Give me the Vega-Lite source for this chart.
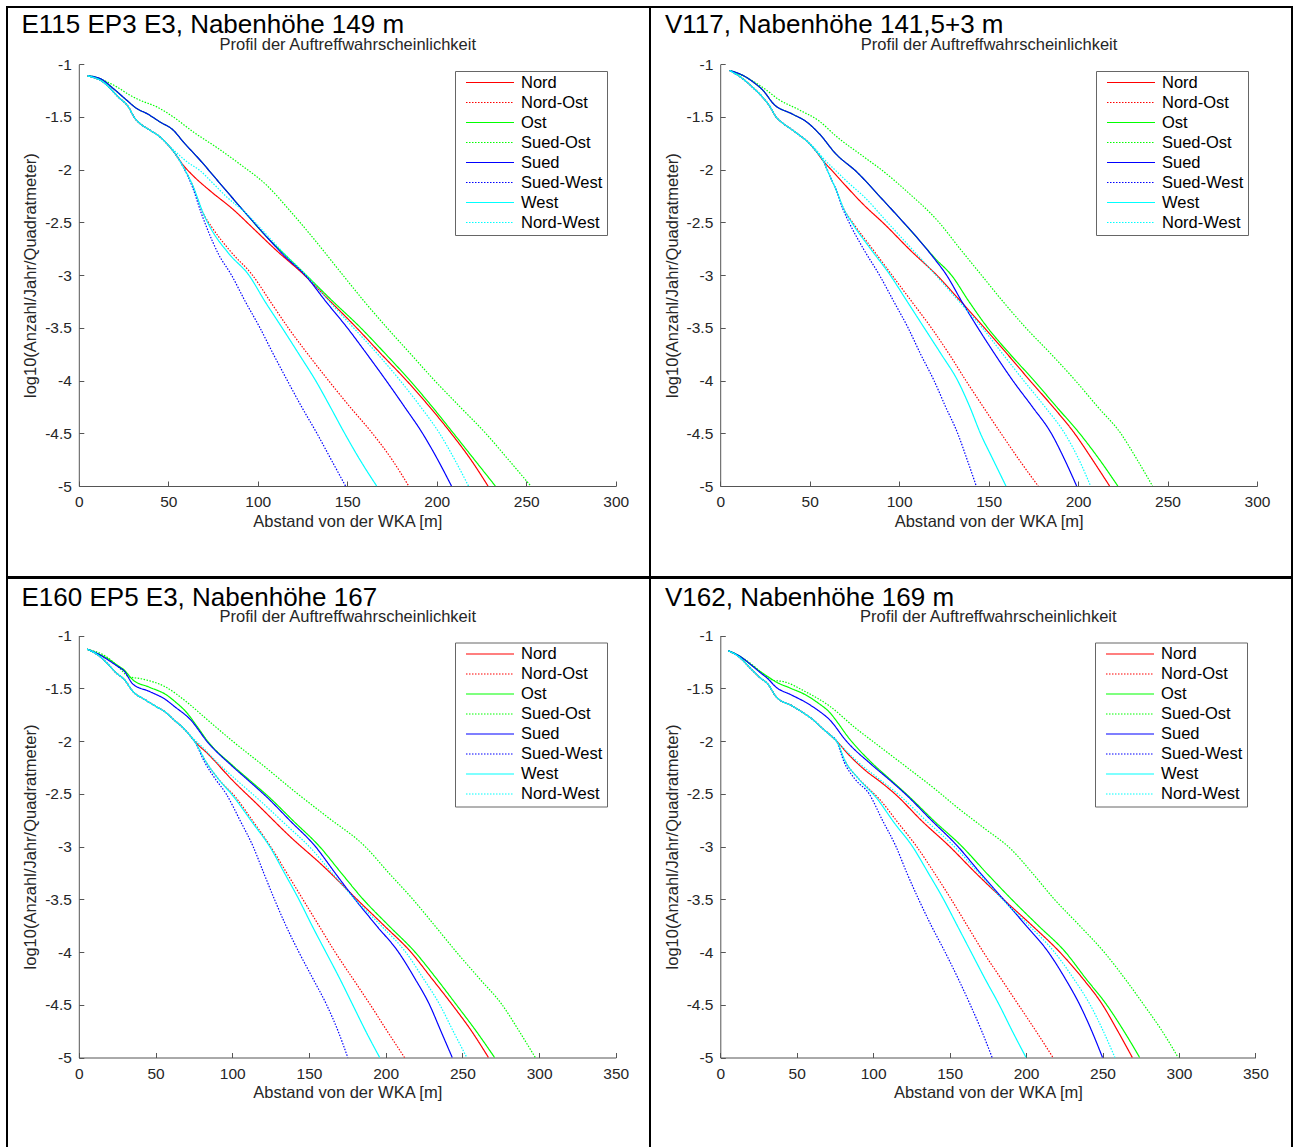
{
  "$schema": "https://vega.github.io/schema/vega-lite/v6.json",
  "padding": {"left": 6, "top": 6, "right": 0, "bottom": 0},
  "config": {
    "font": "Liberation Sans",
    "view": {"stroke": "#000000", "strokeWidth": 2},
    "axis": {"grid": false, "labelFont": "Liberation Sans", "titleFont": "Liberation Sans", "labelFontSize": 15.5, "labelColor": "#262626", "titleFontSize": 16.5, "titleFontWeight": "normal", "titleColor": "#262626", "domainColor": "#555555", "tickColor": "#555555", "tickSize": -5, "labelFlush": false, "labelOverlap": false},
    "legend": {"symbolType": "stroke", "symbolSize": 2304, "symbolStrokeWidth": 1.2, "labelFontSize": 16.5, "labelColor": "#000000", "labelFont": "Liberation Sans", "clipHeight": 15, "rowPadding": 3, "padding": 4, "symbolOffset": 6, "labelOffset": 6, "strokeColor": "#666666", "fillColor": "#ffffff", "labelLimit": 0}
  },
  "datasets": {
    "p1": [
      {"d":"Nord","x":5,"y":-1.11},{"d":"Nord","x":13.7,"y":-1.17},{"d":"Nord","x":22,"y":-1.31},{"d":"Nord","x":27.7,"y":-1.405},{"d":"Nord","x":31.4,"y":-1.515},{"d":"Nord","x":34.2,"y":-1.563},{"d":"Nord","x":39.8,"y":-1.626},{"d":"Nord","x":45.4,"y":-1.69},{"d":"Nord","x":49.2,"y":-1.753},{"d":"Nord","x":53.8,"y":-1.848},{"d":"Nord","x":58,"y":-1.95},{"d":"Nord","x":64,"y":-2.06},{"d":"Nord","x":73.3,"y":-2.2},{"d":"Nord","x":86.4,"y":-2.38},{"d":"Nord","x":97,"y":-2.55},{"d":"Nord","x":110,"y":-2.76},{"d":"Nord","x":126,"y":-3.0},{"d":"Nord","x":140,"y":-3.24},{"d":"Nord","x":155.2,"y":-3.5},{"d":"Nord","x":169,"y":-3.75},{"d":"Nord","x":183.1,"y":-4.0},{"d":"Nord","x":196,"y":-4.25},{"d":"Nord","x":208,"y":-4.5},{"d":"Nord","x":219,"y":-4.75},{"d":"Nord","x":228.6,"y":-5.0},
      {"d":"Nord-Ost","x":5,"y":-1.11},{"d":"Nord-Ost","x":13.7,"y":-1.17},{"d":"Nord-Ost","x":22,"y":-1.31},{"d":"Nord-Ost","x":27.7,"y":-1.405},{"d":"Nord-Ost","x":31.4,"y":-1.515},{"d":"Nord-Ost","x":34.2,"y":-1.563},{"d":"Nord-Ost","x":39.8,"y":-1.626},{"d":"Nord-Ost","x":45.4,"y":-1.69},{"d":"Nord-Ost","x":49.2,"y":-1.753},{"d":"Nord-Ost","x":53.8,"y":-1.848},{"d":"Nord-Ost","x":58.4,"y":-1.975},{"d":"Nord-Ost","x":64,"y":-2.165},{"d":"Nord-Ost","x":69.6,"y":-2.417},{"d":"Nord-Ost","x":74.5,"y":-2.55},{"d":"Nord-Ost","x":85,"y":-2.78},{"d":"Nord-Ost","x":97,"y":-3.0},{"d":"Nord-Ost","x":107,"y":-3.25},{"d":"Nord-Ost","x":117,"y":-3.5},{"d":"Nord-Ost","x":128,"y":-3.75},{"d":"Nord-Ost","x":139.5,"y":-4.0},{"d":"Nord-Ost","x":151.5,"y":-4.25},{"d":"Nord-Ost","x":164,"y":-4.5},{"d":"Nord-Ost","x":175,"y":-4.75},{"d":"Nord-Ost","x":184.3,"y":-5.0},
      {"d":"Ost","x":5,"y":-1.11},{"d":"Ost","x":11.9,"y":-1.136},{"d":"Ost","x":19.3,"y":-1.231},{"d":"Ost","x":26.8,"y":-1.342},{"d":"Ost","x":32.4,"y":-1.421},{"d":"Ost","x":38,"y":-1.468},{"d":"Ost","x":45.4,"y":-1.548},{"d":"Ost","x":52.8,"y":-1.626},{"d":"Ost","x":58.4,"y":-1.737},{"d":"Ost","x":67.8,"y":-1.911},{"d":"Ost","x":79,"y":-2.133},{"d":"Ost","x":90.2,"y":-2.354},{"d":"Ost","x":105.1,"y":-2.64},{"d":"Ost","x":116,"y":-2.82},{"d":"Ost","x":127,"y":-3.0},{"d":"Ost","x":142,"y":-3.25},{"d":"Ost","x":157.5,"y":-3.5},{"d":"Ost","x":171.5,"y":-3.75},{"d":"Ost","x":185,"y":-4.0},{"d":"Ost","x":197.5,"y":-4.25},{"d":"Ost","x":209.3,"y":-4.5},{"d":"Ost","x":221,"y":-4.75},{"d":"Ost","x":232.7,"y":-5.0},
      {"d":"Sued-Ost","x":5,"y":-1.11},{"d":"Sued-Ost","x":13.7,"y":-1.152},{"d":"Sued-Ost","x":21.2,"y":-1.215},{"d":"Sued-Ost","x":28.6,"y":-1.294},{"d":"Sued-Ost","x":34.2,"y":-1.342},{"d":"Sued-Ost","x":43.6,"y":-1.405},{"d":"Sued-Ost","x":52.8,"y":-1.5},{"d":"Sued-Ost","x":64,"y":-1.643},{"d":"Sued-Ost","x":77.1,"y":-1.79},{"d":"Sued-Ost","x":90.2,"y":-1.95},{"d":"Sued-Ost","x":105.1,"y":-2.15},{"d":"Sued-Ost","x":118,"y":-2.39},{"d":"Sued-Ost","x":131,"y":-2.65},{"d":"Sued-Ost","x":146.6,"y":-2.98},{"d":"Sued-Ost","x":159.5,"y":-3.25},{"d":"Sued-Ost","x":172.2,"y":-3.5},{"d":"Sued-Ost","x":185.5,"y":-3.75},{"d":"Sued-Ost","x":198.8,"y":-4.0},{"d":"Sued-Ost","x":213,"y":-4.25},{"d":"Sued-Ost","x":227.3,"y":-4.5},{"d":"Sued-Ost","x":240,"y":-4.75},{"d":"Sued-Ost","x":252.5,"y":-5.0},
      {"d":"Sued","x":5,"y":-1.11},{"d":"Sued","x":11.9,"y":-1.136},{"d":"Sued","x":19.3,"y":-1.231},{"d":"Sued","x":26.8,"y":-1.342},{"d":"Sued","x":32.4,"y":-1.421},{"d":"Sued","x":38,"y":-1.468},{"d":"Sued","x":45.4,"y":-1.548},{"d":"Sued","x":52.8,"y":-1.626},{"d":"Sued","x":58.4,"y":-1.737},{"d":"Sued","x":67.8,"y":-1.911},{"d":"Sued","x":79,"y":-2.133},{"d":"Sued","x":90.2,"y":-2.354},{"d":"Sued","x":105.1,"y":-2.64},{"d":"Sued","x":115,"y":-2.82},{"d":"Sued","x":126.4,"y":-3.0},{"d":"Sued","x":138,"y":-3.25},{"d":"Sued","x":150,"y":-3.5},{"d":"Sued","x":161,"y":-3.75},{"d":"Sued","x":171.7,"y":-4.0},{"d":"Sued","x":182,"y":-4.25},{"d":"Sued","x":192,"y":-4.5},{"d":"Sued","x":200.5,"y":-4.75},{"d":"Sued","x":208.2,"y":-5.0},
      {"d":"Sued-West","x":5,"y":-1.11},{"d":"Sued-West","x":13.7,"y":-1.17},{"d":"Sued-West","x":22,"y":-1.31},{"d":"Sued-West","x":27.7,"y":-1.405},{"d":"Sued-West","x":31.4,"y":-1.515},{"d":"Sued-West","x":34.2,"y":-1.563},{"d":"Sued-West","x":39.8,"y":-1.626},{"d":"Sued-West","x":45.4,"y":-1.69},{"d":"Sued-West","x":49.2,"y":-1.753},{"d":"Sued-West","x":53.8,"y":-1.848},{"d":"Sued-West","x":58.4,"y":-1.975},{"d":"Sued-West","x":63.5,"y":-2.165},{"d":"Sued-West","x":68.5,"y":-2.417},{"d":"Sued-West","x":71.5,"y":-2.55},{"d":"Sued-West","x":78,"y":-2.8},{"d":"Sued-West","x":85.3,"y":-3.0},{"d":"Sued-West","x":93,"y":-3.25},{"d":"Sued-West","x":101.2,"y":-3.5},{"d":"Sued-West","x":108.7,"y":-3.75},{"d":"Sued-West","x":116.5,"y":-4.0},{"d":"Sued-West","x":124.5,"y":-4.25},{"d":"Sued-West","x":133,"y":-4.5},{"d":"Sued-West","x":141,"y":-4.75},{"d":"Sued-West","x":149,"y":-5.0},
      {"d":"West","x":5,"y":-1.11},{"d":"West","x":13.7,"y":-1.17},{"d":"West","x":22,"y":-1.31},{"d":"West","x":27.7,"y":-1.405},{"d":"West","x":31.4,"y":-1.515},{"d":"West","x":34.2,"y":-1.563},{"d":"West","x":39.8,"y":-1.626},{"d":"West","x":45.4,"y":-1.69},{"d":"West","x":49.2,"y":-1.753},{"d":"West","x":53.8,"y":-1.848},{"d":"West","x":58.4,"y":-1.975},{"d":"West","x":64,"y":-2.165},{"d":"West","x":69.6,"y":-2.417},{"d":"West","x":73.5,"y":-2.55},{"d":"West","x":84,"y":-2.8},{"d":"West","x":95,"y":-3.0},{"d":"West","x":104,"y":-3.25},{"d":"West","x":113.6,"y":-3.5},{"d":"West","x":123,"y":-3.75},{"d":"West","x":132.3,"y":-4.0},{"d":"West","x":140.5,"y":-4.25},{"d":"West","x":148.5,"y":-4.5},{"d":"West","x":157,"y":-4.75},{"d":"West","x":166.4,"y":-5.0},
      {"d":"Nord-West","x":5,"y":-1.11},{"d":"Nord-West","x":13.7,"y":-1.17},{"d":"Nord-West","x":22,"y":-1.31},{"d":"Nord-West","x":27.7,"y":-1.405},{"d":"Nord-West","x":31.4,"y":-1.515},{"d":"Nord-West","x":34.2,"y":-1.563},{"d":"Nord-West","x":39.8,"y":-1.626},{"d":"Nord-West","x":45.4,"y":-1.69},{"d":"Nord-West","x":49.2,"y":-1.753},{"d":"Nord-West","x":54,"y":-1.83},{"d":"Nord-West","x":60,"y":-1.92},{"d":"Nord-West","x":67.8,"y":-2.01},{"d":"Nord-West","x":75,"y":-2.13},{"d":"Nord-West","x":82.7,"y":-2.26},{"d":"Nord-West","x":93.9,"y":-2.42},{"d":"Nord-West","x":104,"y":-2.6},{"d":"Nord-West","x":115,"y":-2.8},{"d":"Nord-West","x":127,"y":-3.0},{"d":"Nord-West","x":140,"y":-3.25},{"d":"Nord-West","x":153.5,"y":-3.5},{"d":"Nord-West","x":167,"y":-3.75},{"d":"Nord-West","x":179.5,"y":-4.0},{"d":"Nord-West","x":191,"y":-4.25},{"d":"Nord-West","x":201.5,"y":-4.5},{"d":"Nord-West","x":210,"y":-4.75},{"d":"Nord-West","x":217.7,"y":-5.0}
    ],
    "p2": [
      {"d":"Nord","x":5.3,"y":-1.06},{"d":"Nord","x":12,"y":-1.13},{"d":"Nord","x":18.5,"y":-1.225},{"d":"Nord","x":23,"y":-1.3},{"d":"Nord","x":27.7,"y":-1.4},{"d":"Nord","x":31.2,"y":-1.5},{"d":"Nord","x":35,"y":-1.56},{"d":"Nord","x":39.2,"y":-1.61},{"d":"Nord","x":44,"y":-1.67},{"d":"Nord","x":48.5,"y":-1.73},{"d":"Nord","x":53.1,"y":-1.815},{"d":"Nord","x":57.7,"y":-1.92},{"d":"Nord","x":62,"y":-2.0},{"d":"Nord","x":70,"y":-2.15},{"d":"Nord","x":80,"y":-2.33},{"d":"Nord","x":92,"y":-2.52},{"d":"Nord","x":106,"y":-2.76},{"d":"Nord","x":121,"y":-3.0},{"d":"Nord","x":134.5,"y":-3.25},{"d":"Nord","x":147.7,"y":-3.5},{"d":"Nord","x":160.5,"y":-3.75},{"d":"Nord","x":173.1,"y":-4.0},{"d":"Nord","x":186,"y":-4.25},{"d":"Nord","x":198,"y":-4.5},{"d":"Nord","x":208,"y":-4.75},{"d":"Nord","x":217.6,"y":-5.0},
      {"d":"Nord-Ost","x":5.3,"y":-1.06},{"d":"Nord-Ost","x":12,"y":-1.13},{"d":"Nord-Ost","x":18.5,"y":-1.225},{"d":"Nord-Ost","x":23,"y":-1.3},{"d":"Nord-Ost","x":27.7,"y":-1.4},{"d":"Nord-Ost","x":31.2,"y":-1.5},{"d":"Nord-Ost","x":35,"y":-1.56},{"d":"Nord-Ost","x":39.2,"y":-1.61},{"d":"Nord-Ost","x":44,"y":-1.67},{"d":"Nord-Ost","x":48.5,"y":-1.73},{"d":"Nord-Ost","x":53.1,"y":-1.815},{"d":"Nord-Ost","x":57.7,"y":-1.92},{"d":"Nord-Ost","x":61,"y":-2.05},{"d":"Nord-Ost","x":65,"y":-2.2},{"d":"Nord-Ost","x":69,"y":-2.37},{"d":"Nord-Ost","x":74,"y":-2.5},{"d":"Nord-Ost","x":85,"y":-2.75},{"d":"Nord-Ost","x":96,"y":-3.0},{"d":"Nord-Ost","x":107,"y":-3.25},{"d":"Nord-Ost","x":118,"y":-3.5},{"d":"Nord-Ost","x":128,"y":-3.75},{"d":"Nord-Ost","x":137.3,"y":-4.0},{"d":"Nord-Ost","x":147,"y":-4.25},{"d":"Nord-Ost","x":156.9,"y":-4.5},{"d":"Nord-Ost","x":167,"y":-4.75},{"d":"Nord-Ost","x":177.7,"y":-5.0},
      {"d":"Ost","x":5.3,"y":-1.06},{"d":"Ost","x":12,"y":-1.1},{"d":"Ost","x":18.5,"y":-1.17},{"d":"Ost","x":24,"y":-1.25},{"d":"Ost","x":30,"y":-1.38},{"d":"Ost","x":40,"y":-1.47},{"d":"Ost","x":48.5,"y":-1.55},{"d":"Ost","x":55.4,"y":-1.66},{"d":"Ost","x":64.6,"y":-1.85},{"d":"Ost","x":76.2,"y":-2.02},{"d":"Ost","x":90,"y":-2.27},{"d":"Ost","x":99.2,"y":-2.44},{"d":"Ost","x":110.8,"y":-2.66},{"d":"Ost","x":120,"y":-2.84},{"d":"Ost","x":129.2,"y":-3.0},{"d":"Ost","x":139,"y":-3.25},{"d":"Ost","x":149.5,"y":-3.5},{"d":"Ost","x":162,"y":-3.75},{"d":"Ost","x":175.4,"y":-4.0},{"d":"Ost","x":188,"y":-4.25},{"d":"Ost","x":200.8,"y":-4.5},{"d":"Ost","x":212,"y":-4.75},{"d":"Ost","x":222.2,"y":-5.0},
      {"d":"Sued-Ost","x":5.3,"y":-1.06},{"d":"Sued-Ost","x":16.2,"y":-1.14},{"d":"Sued-Ost","x":25.4,"y":-1.24},{"d":"Sued-Ost","x":32.3,"y":-1.33},{"d":"Sued-Ost","x":43.8,"y":-1.43},{"d":"Sued-Ost","x":55.4,"y":-1.54},{"d":"Sued-Ost","x":64.6,"y":-1.68},{"d":"Sued-Ost","x":80.8,"y":-1.885},{"d":"Sued-Ost","x":90,"y":-2.0},{"d":"Sued-Ost","x":103.9,"y":-2.2},{"d":"Sued-Ost","x":122.3,"y":-2.5},{"d":"Sued-Ost","x":134,"y":-2.75},{"d":"Sued-Ost","x":146,"y":-3.0},{"d":"Sued-Ost","x":158,"y":-3.25},{"d":"Sued-Ost","x":170.8,"y":-3.5},{"d":"Sued-Ost","x":185,"y":-3.75},{"d":"Sued-Ost","x":198.5,"y":-4.0},{"d":"Sued-Ost","x":211,"y":-4.25},{"d":"Sued-Ost","x":223.8,"y":-4.5},{"d":"Sued-Ost","x":233,"y":-4.75},{"d":"Sued-Ost","x":241.6,"y":-5.0},
      {"d":"Sued","x":5.3,"y":-1.06},{"d":"Sued","x":12,"y":-1.1},{"d":"Sued","x":18.5,"y":-1.17},{"d":"Sued","x":24,"y":-1.25},{"d":"Sued","x":30,"y":-1.38},{"d":"Sued","x":40,"y":-1.47},{"d":"Sued","x":48.5,"y":-1.55},{"d":"Sued","x":55.4,"y":-1.66},{"d":"Sued","x":64.6,"y":-1.85},{"d":"Sued","x":76.2,"y":-2.02},{"d":"Sued","x":90,"y":-2.27},{"d":"Sued","x":99.2,"y":-2.44},{"d":"Sued","x":110.8,"y":-2.66},{"d":"Sued","x":119,"y":-2.83},{"d":"Sued","x":126.5,"y":-3.0},{"d":"Sued","x":135,"y":-3.25},{"d":"Sued","x":144,"y":-3.5},{"d":"Sued","x":153.5,"y":-3.75},{"d":"Sued","x":163.5,"y":-4.0},{"d":"Sued","x":174.5,"y":-4.25},{"d":"Sued","x":185,"y":-4.5},{"d":"Sued","x":192.5,"y":-4.75},{"d":"Sued","x":199.2,"y":-5.0},
      {"d":"Sued-West","x":5.3,"y":-1.06},{"d":"Sued-West","x":12,"y":-1.13},{"d":"Sued-West","x":18.5,"y":-1.225},{"d":"Sued-West","x":23,"y":-1.3},{"d":"Sued-West","x":27.7,"y":-1.4},{"d":"Sued-West","x":31.2,"y":-1.5},{"d":"Sued-West","x":35,"y":-1.56},{"d":"Sued-West","x":39.2,"y":-1.61},{"d":"Sued-West","x":44,"y":-1.67},{"d":"Sued-West","x":48.5,"y":-1.73},{"d":"Sued-West","x":53.1,"y":-1.815},{"d":"Sued-West","x":57.7,"y":-1.92},{"d":"Sued-West","x":61,"y":-2.05},{"d":"Sued-West","x":65,"y":-2.2},{"d":"Sued-West","x":68.5,"y":-2.37},{"d":"Sued-West","x":72,"y":-2.5},{"d":"Sued-West","x":80,"y":-2.75},{"d":"Sued-West","x":89,"y":-3.0},{"d":"Sued-West","x":97,"y":-3.25},{"d":"Sued-West","x":105,"y":-3.5},{"d":"Sued-West","x":112,"y":-3.75},{"d":"Sued-West","x":119.5,"y":-4.0},{"d":"Sued-West","x":126,"y":-4.25},{"d":"Sued-West","x":132.7,"y":-4.5},{"d":"Sued-West","x":138,"y":-4.75},{"d":"Sued-West","x":143.1,"y":-5.0},
      {"d":"West","x":5.3,"y":-1.06},{"d":"West","x":12,"y":-1.13},{"d":"West","x":18.5,"y":-1.225},{"d":"West","x":23,"y":-1.3},{"d":"West","x":27.7,"y":-1.4},{"d":"West","x":31.2,"y":-1.5},{"d":"West","x":35,"y":-1.56},{"d":"West","x":39.2,"y":-1.61},{"d":"West","x":44,"y":-1.67},{"d":"West","x":48.5,"y":-1.73},{"d":"West","x":53.1,"y":-1.815},{"d":"West","x":57.7,"y":-1.92},{"d":"West","x":61,"y":-2.05},{"d":"West","x":65,"y":-2.2},{"d":"West","x":69,"y":-2.37},{"d":"West","x":73.5,"y":-2.5},{"d":"West","x":84,"y":-2.75},{"d":"West","x":95,"y":-3.0},{"d":"West","x":104.5,"y":-3.25},{"d":"West","x":114,"y":-3.5},{"d":"West","x":123.5,"y":-3.75},{"d":"West","x":132.7,"y":-4.0},{"d":"West","x":139.5,"y":-4.25},{"d":"West","x":145.4,"y":-4.5},{"d":"West","x":152.5,"y":-4.75},{"d":"West","x":159.7,"y":-5.0},
      {"d":"Nord-West","x":5.3,"y":-1.06},{"d":"Nord-West","x":12,"y":-1.13},{"d":"Nord-West","x":18.5,"y":-1.225},{"d":"Nord-West","x":23,"y":-1.3},{"d":"Nord-West","x":27.7,"y":-1.4},{"d":"Nord-West","x":31.2,"y":-1.5},{"d":"Nord-West","x":35,"y":-1.56},{"d":"Nord-West","x":39.2,"y":-1.61},{"d":"Nord-West","x":44,"y":-1.67},{"d":"Nord-West","x":48.5,"y":-1.73},{"d":"Nord-West","x":53,"y":-1.8},{"d":"Nord-West","x":58,"y":-1.9},{"d":"Nord-West","x":64,"y":-2.0},{"d":"Nord-West","x":72,"y":-2.13},{"d":"Nord-West","x":80,"y":-2.25},{"d":"Nord-West","x":93.5,"y":-2.5},{"d":"Nord-West","x":107,"y":-2.75},{"d":"Nord-West","x":120.5,"y":-3.0},{"d":"Nord-West","x":133.5,"y":-3.25},{"d":"Nord-West","x":146.5,"y":-3.5},{"d":"Nord-West","x":158,"y":-3.75},{"d":"Nord-West","x":169.6,"y":-4.0},{"d":"Nord-West","x":181.5,"y":-4.25},{"d":"Nord-West","x":192.5,"y":-4.5},{"d":"Nord-West","x":200.5,"y":-4.75},{"d":"Nord-West","x":207,"y":-5.0}
    ],
    "p3": [
      {"d":"Nord","x":5.4,"y":-1.13},{"d":"Nord","x":12,"y":-1.18},{"d":"Nord","x":18.9,"y":-1.27},{"d":"Nord","x":24,"y":-1.35},{"d":"Nord","x":29.8,"y":-1.42},{"d":"Nord","x":35.2,"y":-1.53},{"d":"Nord","x":43.3,"y":-1.61},{"d":"Nord","x":50,"y":-1.67},{"d":"Nord","x":56.8,"y":-1.73},{"d":"Nord","x":62,"y":-1.8},{"d":"Nord","x":67.6,"y":-1.87},{"d":"Nord","x":72,"y":-1.94},{"d":"Nord","x":76,"y":-2.01},{"d":"Nord","x":84,"y":-2.12},{"d":"Nord","x":100,"y":-2.37},{"d":"Nord","x":116.3,"y":-2.6},{"d":"Nord","x":138,"y":-2.91},{"d":"Nord","x":159.6,"y":-3.19},{"d":"Nord","x":181.2,"y":-3.5},{"d":"Nord","x":199,"y":-3.75},{"d":"Nord","x":216.4,"y":-4.0},{"d":"Nord","x":230,"y":-4.25},{"d":"Nord","x":243.4,"y":-4.5},{"d":"Nord","x":256,"y":-4.75},{"d":"Nord","x":267,"y":-5.0},
      {"d":"Nord-Ost","x":5.4,"y":-1.13},{"d":"Nord-Ost","x":12,"y":-1.18},{"d":"Nord-Ost","x":18.9,"y":-1.27},{"d":"Nord-Ost","x":24,"y":-1.35},{"d":"Nord-Ost","x":29.8,"y":-1.42},{"d":"Nord-Ost","x":35.2,"y":-1.53},{"d":"Nord-Ost","x":43.3,"y":-1.61},{"d":"Nord-Ost","x":50,"y":-1.67},{"d":"Nord-Ost","x":56.8,"y":-1.73},{"d":"Nord-Ost","x":62,"y":-1.8},{"d":"Nord-Ost","x":67.6,"y":-1.87},{"d":"Nord-Ost","x":72,"y":-1.94},{"d":"Nord-Ost","x":75.7,"y":-2.01},{"d":"Nord-Ost","x":83,"y":-2.2},{"d":"Nord-Ost","x":91,"y":-2.36},{"d":"Nord-Ost","x":102,"y":-2.53},{"d":"Nord-Ost","x":114,"y":-2.77},{"d":"Nord-Ost","x":125,"y":-3.0},{"d":"Nord-Ost","x":135.5,"y":-3.25},{"d":"Nord-Ost","x":146,"y":-3.5},{"d":"Nord-Ost","x":156.5,"y":-3.75},{"d":"Nord-Ost","x":167,"y":-4.0},{"d":"Nord-Ost","x":178.5,"y":-4.25},{"d":"Nord-Ost","x":190,"y":-4.5},{"d":"Nord-Ost","x":201,"y":-4.75},{"d":"Nord-Ost","x":212.3,"y":-5.0},
      {"d":"Ost","x":5.4,"y":-1.13},{"d":"Ost","x":12,"y":-1.17},{"d":"Ost","x":18.9,"y":-1.22},{"d":"Ost","x":25,"y":-1.28},{"d":"Ost","x":29.8,"y":-1.33},{"d":"Ost","x":35.2,"y":-1.42},{"d":"Ost","x":46,"y":-1.49},{"d":"Ost","x":56.8,"y":-1.56},{"d":"Ost","x":63,"y":-1.63},{"d":"Ost","x":70.3,"y":-1.73},{"d":"Ost","x":77,"y":-1.86},{"d":"Ost","x":83.9,"y":-2.0},{"d":"Ost","x":100.1,"y":-2.23},{"d":"Ost","x":112,"y":-2.38},{"d":"Ost","x":123.1,"y":-2.52},{"d":"Ost","x":140,"y":-2.76},{"d":"Ost","x":156.9,"y":-3.0},{"d":"Ost","x":171,"y":-3.25},{"d":"Ost","x":185.3,"y":-3.5},{"d":"Ost","x":202,"y":-3.75},{"d":"Ost","x":219.1,"y":-4.0},{"d":"Ost","x":233,"y":-4.25},{"d":"Ost","x":246.1,"y":-4.5},{"d":"Ost","x":259,"y":-4.75},{"d":"Ost","x":271,"y":-5.0},
      {"d":"Sued-Ost","x":5.4,"y":-1.13},{"d":"Sued-Ost","x":18.9,"y":-1.21},{"d":"Sued-Ost","x":26,"y":-1.3},{"d":"Sued-Ost","x":32.5,"y":-1.39},{"d":"Sued-Ost","x":40.6,"y":-1.41},{"d":"Sued-Ost","x":56.8,"y":-1.49},{"d":"Sued-Ost","x":70.3,"y":-1.63},{"d":"Sued-Ost","x":83.9,"y":-1.8},{"d":"Sued-Ost","x":100.1,"y":-2.0},{"d":"Sued-Ost","x":121.7,"y":-2.25},{"d":"Sued-Ost","x":140,"y":-2.47},{"d":"Sued-Ost","x":162,"y":-2.72},{"d":"Sued-Ost","x":186.6,"y":-3.0},{"d":"Sued-Ost","x":202,"y":-3.25},{"d":"Sued-Ost","x":217.7,"y":-3.5},{"d":"Sued-Ost","x":232,"y":-3.75},{"d":"Sued-Ost","x":246.1,"y":-4.0},{"d":"Sued-Ost","x":261,"y":-4.25},{"d":"Sued-Ost","x":275.9,"y":-4.5},{"d":"Sued-Ost","x":287,"y":-4.75},{"d":"Sued-Ost","x":297.5,"y":-5.0},
      {"d":"Sued","x":5.4,"y":-1.13},{"d":"Sued","x":12,"y":-1.17},{"d":"Sued","x":18.9,"y":-1.23},{"d":"Sued","x":25,"y":-1.29},{"d":"Sued","x":29.8,"y":-1.34},{"d":"Sued","x":35.2,"y":-1.46},{"d":"Sued","x":46,"y":-1.53},{"d":"Sued","x":56.8,"y":-1.61},{"d":"Sued","x":62.1,"y":-1.67},{"d":"Sued","x":72.9,"y":-1.8},{"d":"Sued","x":83.9,"y":-2.01},{"d":"Sued","x":100.1,"y":-2.24},{"d":"Sued","x":111,"y":-2.38},{"d":"Sued","x":121.7,"y":-2.52},{"d":"Sued","x":138,"y":-2.76},{"d":"Sued","x":154.2,"y":-3.0},{"d":"Sued","x":167,"y":-3.25},{"d":"Sued","x":180,"y":-3.5},{"d":"Sued","x":194,"y":-3.75},{"d":"Sued","x":208.3,"y":-4.0},{"d":"Sued","x":219,"y":-4.25},{"d":"Sued","x":228.6,"y":-4.5},{"d":"Sued","x":236,"y":-4.75},{"d":"Sued","x":243.4,"y":-5.0},
      {"d":"Sued-West","x":5.4,"y":-1.13},{"d":"Sued-West","x":12,"y":-1.18},{"d":"Sued-West","x":18.9,"y":-1.27},{"d":"Sued-West","x":24,"y":-1.35},{"d":"Sued-West","x":29.8,"y":-1.42},{"d":"Sued-West","x":35.2,"y":-1.53},{"d":"Sued-West","x":43.3,"y":-1.61},{"d":"Sued-West","x":50,"y":-1.67},{"d":"Sued-West","x":56.8,"y":-1.73},{"d":"Sued-West","x":62,"y":-1.8},{"d":"Sued-West","x":67.6,"y":-1.87},{"d":"Sued-West","x":72,"y":-1.94},{"d":"Sued-West","x":75.7,"y":-2.01},{"d":"Sued-West","x":82,"y":-2.2},{"d":"Sued-West","x":89,"y":-2.36},{"d":"Sued-West","x":96,"y":-2.5},{"d":"Sued-West","x":105,"y":-2.75},{"d":"Sued-West","x":113.6,"y":-3.0},{"d":"Sued-West","x":120.5,"y":-3.25},{"d":"Sued-West","x":127.5,"y":-3.5},{"d":"Sued-West","x":135,"y":-3.75},{"d":"Sued-West","x":143.4,"y":-4.0},{"d":"Sued-West","x":152.5,"y":-4.25},{"d":"Sued-West","x":161.5,"y":-4.5},{"d":"Sued-West","x":169,"y":-4.75},{"d":"Sued-West","x":175.3,"y":-5.0},
      {"d":"West","x":5.4,"y":-1.13},{"d":"West","x":12,"y":-1.18},{"d":"West","x":18.9,"y":-1.27},{"d":"West","x":24,"y":-1.35},{"d":"West","x":29.8,"y":-1.42},{"d":"West","x":35.2,"y":-1.53},{"d":"West","x":43.3,"y":-1.61},{"d":"West","x":50,"y":-1.67},{"d":"West","x":56.8,"y":-1.73},{"d":"West","x":62,"y":-1.8},{"d":"West","x":67.6,"y":-1.87},{"d":"West","x":72,"y":-1.94},{"d":"West","x":75.7,"y":-2.01},{"d":"West","x":83,"y":-2.2},{"d":"West","x":91,"y":-2.36},{"d":"West","x":101,"y":-2.53},{"d":"West","x":113,"y":-2.77},{"d":"West","x":124.4,"y":-3.0},{"d":"West","x":134,"y":-3.25},{"d":"West","x":143.4,"y":-3.5},{"d":"West","x":152,"y":-3.75},{"d":"West","x":161,"y":-4.0},{"d":"West","x":170,"y":-4.25},{"d":"West","x":178.5,"y":-4.5},{"d":"West","x":187,"y":-4.75},{"d":"West","x":196.1,"y":-5.0},
      {"d":"Nord-West","x":5.4,"y":-1.13},{"d":"Nord-West","x":12,"y":-1.18},{"d":"Nord-West","x":18.9,"y":-1.27},{"d":"Nord-West","x":24,"y":-1.35},{"d":"Nord-West","x":29.8,"y":-1.42},{"d":"Nord-West","x":35.2,"y":-1.53},{"d":"Nord-West","x":43.3,"y":-1.61},{"d":"Nord-West","x":50,"y":-1.67},{"d":"Nord-West","x":56.8,"y":-1.73},{"d":"Nord-West","x":62,"y":-1.8},{"d":"Nord-West","x":67.6,"y":-1.87},{"d":"Nord-West","x":72,"y":-1.94},{"d":"Nord-West","x":80,"y":-2.05},{"d":"Nord-West","x":90,"y":-2.2},{"d":"Nord-West","x":102,"y":-2.36},{"d":"Nord-West","x":117.7,"y":-2.56},{"d":"Nord-West","x":134,"y":-2.78},{"d":"Nord-West","x":151.5,"y":-3.02},{"d":"Nord-West","x":165,"y":-3.25},{"d":"Nord-West","x":180,"y":-3.5},{"d":"Nord-West","x":197,"y":-3.75},{"d":"Nord-West","x":213,"y":-4.0},{"d":"Nord-West","x":224.5,"y":-4.25},{"d":"Nord-West","x":235.3,"y":-4.5},{"d":"Nord-West","x":244,"y":-4.75},{"d":"Nord-West","x":252.9,"y":-5.0}
    ],
    "p4": [
      {"d":"Nord","x":5.4,"y":-1.146},{"d":"Nord","x":12,"y":-1.2},{"d":"Nord","x":20.3,"y":-1.32},{"d":"Nord","x":26,"y":-1.4},{"d":"Nord","x":31.1,"y":-1.46},{"d":"Nord","x":36.5,"y":-1.58},{"d":"Nord","x":47.3,"y":-1.67},{"d":"Nord","x":55,"y":-1.74},{"d":"Nord","x":60.8,"y":-1.8},{"d":"Nord","x":66,"y":-1.87},{"d":"Nord","x":71.6,"y":-1.94},{"d":"Nord","x":76,"y":-2.0},{"d":"Nord","x":84,"y":-2.13},{"d":"Nord","x":95,"y":-2.28},{"d":"Nord","x":105,"y":-2.39},{"d":"Nord","x":114.9,"y":-2.51},{"d":"Nord","x":132,"y":-2.76},{"d":"Nord","x":150,"y":-3.0},{"d":"Nord","x":167,"y":-3.25},{"d":"Nord","x":185.1,"y":-3.5},{"d":"Nord","x":204,"y":-3.75},{"d":"Nord","x":222,"y":-4.0},{"d":"Nord","x":237,"y":-4.25},{"d":"Nord","x":250,"y":-4.5},{"d":"Nord","x":260,"y":-4.75},{"d":"Nord","x":269.5,"y":-5.0},
      {"d":"Nord-Ost","x":5.4,"y":-1.146},{"d":"Nord-Ost","x":12,"y":-1.2},{"d":"Nord-Ost","x":20.3,"y":-1.32},{"d":"Nord-Ost","x":26,"y":-1.4},{"d":"Nord-Ost","x":31.1,"y":-1.46},{"d":"Nord-Ost","x":36.5,"y":-1.58},{"d":"Nord-Ost","x":47.3,"y":-1.67},{"d":"Nord-Ost","x":55,"y":-1.74},{"d":"Nord-Ost","x":60.8,"y":-1.8},{"d":"Nord-Ost","x":66,"y":-1.87},{"d":"Nord-Ost","x":71.6,"y":-1.94},{"d":"Nord-Ost","x":76,"y":-2.0},{"d":"Nord-Ost","x":82,"y":-2.2},{"d":"Nord-Ost","x":90,"y":-2.35},{"d":"Nord-Ost","x":97,"y":-2.45},{"d":"Nord-Ost","x":104,"y":-2.55},{"d":"Nord-Ost","x":116,"y":-2.77},{"d":"Nord-Ost","x":128.4,"y":-3.0},{"d":"Nord-Ost","x":140,"y":-3.25},{"d":"Nord-Ost","x":151,"y":-3.5},{"d":"Nord-Ost","x":161.5,"y":-3.75},{"d":"Nord-Ost","x":172,"y":-4.0},{"d":"Nord-Ost","x":183.5,"y":-4.25},{"d":"Nord-Ost","x":195,"y":-4.5},{"d":"Nord-Ost","x":206.5,"y":-4.75},{"d":"Nord-Ost","x":217.6,"y":-5.0},
      {"d":"Ost","x":5.4,"y":-1.146},{"d":"Ost","x":12,"y":-1.19},{"d":"Ost","x":20.3,"y":-1.28},{"d":"Ost","x":26,"y":-1.34},{"d":"Ost","x":31.1,"y":-1.39},{"d":"Ost","x":36.5,"y":-1.44},{"d":"Ost","x":46,"y":-1.5},{"d":"Ost","x":55.4,"y":-1.56},{"d":"Ost","x":64,"y":-1.64},{"d":"Ost","x":71.6,"y":-1.73},{"d":"Ost","x":77,"y":-1.83},{"d":"Ost","x":82.4,"y":-1.94},{"d":"Ost","x":98.6,"y":-2.2},{"d":"Ost","x":110,"y":-2.35},{"d":"Ost","x":123,"y":-2.52},{"d":"Ost","x":140,"y":-2.76},{"d":"Ost","x":158.1,"y":-3.0},{"d":"Ost","x":174,"y":-3.25},{"d":"Ost","x":190.5,"y":-3.5},{"d":"Ost","x":208,"y":-3.75},{"d":"Ost","x":225.7,"y":-4.0},{"d":"Ost","x":239,"y":-4.25},{"d":"Ost","x":252.7,"y":-4.5},{"d":"Ost","x":264,"y":-4.75},{"d":"Ost","x":274.3,"y":-5.0},
      {"d":"Sued-Ost","x":5.4,"y":-1.146},{"d":"Sued-Ost","x":12,"y":-1.19},{"d":"Sued-Ost","x":20.3,"y":-1.27},{"d":"Sued-Ost","x":26,"y":-1.34},{"d":"Sued-Ost","x":33.8,"y":-1.42},{"d":"Sued-Ost","x":42.2,"y":-1.44},{"d":"Sued-Ost","x":55.4,"y":-1.53},{"d":"Sued-Ost","x":71.6,"y":-1.67},{"d":"Sued-Ost","x":87.8,"y":-1.87},{"d":"Sued-Ost","x":104,"y":-2.05},{"d":"Sued-Ost","x":125.7,"y":-2.29},{"d":"Sued-Ost","x":140,"y":-2.45},{"d":"Sued-Ost","x":155,"y":-2.63},{"d":"Sued-Ost","x":172,"y":-2.82},{"d":"Sued-Ost","x":190.5,"y":-3.03},{"d":"Sued-Ost","x":204,"y":-3.25},{"d":"Sued-Ost","x":218.5,"y":-3.5},{"d":"Sued-Ost","x":235,"y":-3.75},{"d":"Sued-Ost","x":251,"y":-4.0},{"d":"Sued-Ost","x":264.5,"y":-4.25},{"d":"Sued-Ost","x":277,"y":-4.5},{"d":"Sued-Ost","x":289,"y":-4.75},{"d":"Sued-Ost","x":299.5,"y":-5.0},
      {"d":"Sued","x":5.4,"y":-1.146},{"d":"Sued","x":12,"y":-1.19},{"d":"Sued","x":20.3,"y":-1.28},{"d":"Sued","x":26,"y":-1.35},{"d":"Sued","x":31.1,"y":-1.41},{"d":"Sued","x":36.5,"y":-1.49},{"d":"Sued","x":46,"y":-1.56},{"d":"Sued","x":55.4,"y":-1.63},{"d":"Sued","x":64,"y":-1.71},{"d":"Sued","x":71.6,"y":-1.8},{"d":"Sued","x":82.4,"y":-2.0},{"d":"Sued","x":98.6,"y":-2.22},{"d":"Sued","x":110,"y":-2.36},{"d":"Sued","x":121.6,"y":-2.51},{"d":"Sued","x":138,"y":-2.75},{"d":"Sued","x":155.4,"y":-3.0},{"d":"Sued","x":170,"y":-3.25},{"d":"Sued","x":185.1,"y":-3.5},{"d":"Sued","x":200,"y":-3.75},{"d":"Sued","x":214.5,"y":-4.0},{"d":"Sued","x":225.5,"y":-4.25},{"d":"Sued","x":235.1,"y":-4.5},{"d":"Sued","x":243,"y":-4.75},{"d":"Sued","x":250,"y":-5.0},
      {"d":"Sued-West","x":5.4,"y":-1.146},{"d":"Sued-West","x":12,"y":-1.2},{"d":"Sued-West","x":20.3,"y":-1.32},{"d":"Sued-West","x":26,"y":-1.4},{"d":"Sued-West","x":31.1,"y":-1.46},{"d":"Sued-West","x":36.5,"y":-1.58},{"d":"Sued-West","x":47.3,"y":-1.67},{"d":"Sued-West","x":55,"y":-1.74},{"d":"Sued-West","x":60.8,"y":-1.8},{"d":"Sued-West","x":66,"y":-1.87},{"d":"Sued-West","x":71.6,"y":-1.94},{"d":"Sued-West","x":76,"y":-2.0},{"d":"Sued-West","x":81,"y":-2.2},{"d":"Sued-West","x":88,"y":-2.36},{"d":"Sued-West","x":97.3,"y":-2.5},{"d":"Sued-West","x":106,"y":-2.75},{"d":"Sued-West","x":114.9,"y":-3.0},{"d":"Sued-West","x":122,"y":-3.25},{"d":"Sued-West","x":129.7,"y":-3.5},{"d":"Sued-West","x":138,"y":-3.75},{"d":"Sued-West","x":147,"y":-4.0},{"d":"Sued-West","x":155.5,"y":-4.25},{"d":"Sued-West","x":163.5,"y":-4.5},{"d":"Sued-West","x":171,"y":-4.75},{"d":"Sued-West","x":177.8,"y":-5.0},
      {"d":"West","x":5.4,"y":-1.146},{"d":"West","x":12,"y":-1.2},{"d":"West","x":20.3,"y":-1.32},{"d":"West","x":26,"y":-1.4},{"d":"West","x":31.1,"y":-1.46},{"d":"West","x":36.5,"y":-1.58},{"d":"West","x":47.3,"y":-1.67},{"d":"West","x":55,"y":-1.74},{"d":"West","x":60.8,"y":-1.8},{"d":"West","x":66,"y":-1.87},{"d":"West","x":71.6,"y":-1.94},{"d":"West","x":76,"y":-2.0},{"d":"West","x":82,"y":-2.2},{"d":"West","x":90,"y":-2.35},{"d":"West","x":102.7,"y":-2.55},{"d":"West","x":114,"y":-2.78},{"d":"West","x":125.7,"y":-3.0},{"d":"West","x":136,"y":-3.25},{"d":"West","x":146,"y":-3.5},{"d":"West","x":155,"y":-3.75},{"d":"West","x":164,"y":-4.0},{"d":"West","x":173,"y":-4.25},{"d":"West","x":182.4,"y":-4.5},{"d":"West","x":191,"y":-4.75},{"d":"West","x":200,"y":-5.0},
      {"d":"Nord-West","x":5.4,"y":-1.146},{"d":"Nord-West","x":12,"y":-1.2},{"d":"Nord-West","x":20.3,"y":-1.32},{"d":"Nord-West","x":26,"y":-1.4},{"d":"Nord-West","x":31.1,"y":-1.46},{"d":"Nord-West","x":36.5,"y":-1.58},{"d":"Nord-West","x":47.3,"y":-1.67},{"d":"Nord-West","x":55,"y":-1.74},{"d":"Nord-West","x":60.8,"y":-1.8},{"d":"Nord-West","x":66,"y":-1.87},{"d":"Nord-West","x":72,"y":-1.95},{"d":"Nord-West","x":80,"y":-2.06},{"d":"Nord-West","x":90,"y":-2.2},{"d":"Nord-West","x":103,"y":-2.35},{"d":"Nord-West","x":117.6,"y":-2.52},{"d":"Nord-West","x":135,"y":-2.76},{"d":"Nord-West","x":153,"y":-3.0},{"d":"Nord-West","x":169,"y":-3.25},{"d":"Nord-West","x":184.5,"y":-3.5},{"d":"Nord-West","x":202,"y":-3.75},{"d":"Nord-West","x":218.5,"y":-4.0},{"d":"Nord-West","x":231,"y":-4.25},{"d":"Nord-West","x":241.9,"y":-4.5},{"d":"Nord-West","x":250.5,"y":-4.75},{"d":"Nord-West","x":258.1,"y":-5.0}
    ]
  },
  "spacing": -2,
  "resolve": {"scale": {"x": "independent", "y": "independent", "color": "independent", "strokeDash": "independent"}, "legend": {"color": "independent", "strokeDash": "independent"}},
  "vconcat": [
    {
      "spacing": 0,
      "bounds": "flush",
      "resolve": {"scale": {"x": "independent", "y": "independent", "color": "independent", "strokeDash": "independent"}, "legend": {"color": "independent", "strokeDash": "independent"}},
      "hconcat": [
        {
          "width": 643, "height": 570,
          "data": {"name": "p1"},
          "resolve": {"axis": {"x": "independent", "y": "independent"}},
          "layer": [
            {"mark": {"type": "line", "strokeWidth": 1.2, "interpolate": "monotone"},
             "encoding": {
               "x": {"field": "x", "type": "quantitative", "scale": {"domain": [0, 300], "range": [71.8, 608.8], "nice": false, "zero": false},
                     "axis": {"orient": "bottom", "offset": -91, "values": [0, 50, 100, 150, 200, 250, 300], "title": "Abstand von der WKA [m]", "titleY": 40, "titleBaseline": "alphabetic", "labelPadding": 25.6, "labelBaseline": "alphabetic", "labelExpr": "'' + datum.value"}},
               "y": {"field": "y", "type": "quantitative", "scale": {"domain": [-5, -1], "range": [479, 57.2], "nice": false, "zero": false},
                     "axis": {"orient": "left", "offset": -71.8, "values": [-5, -4.5, -4, -3.5, -3, -2.5, -2, -1.5, -1], "title": "log10(Anzahl/Jahr/Quadratmeter)", "titleX": -48.8, "titleBaseline": "middle", "labelPadding": 12.4, "labelExpr": "'' + datum.value"}},
               "color": {"field": "d", "type": "nominal", "scale": {"domain": ["Nord", "Nord-Ost", "Ost", "Sued-Ost", "Sued", "Sued-West", "West", "Nord-West"], "range": ["#ff0000", "#ff0000", "#00ff00", "#00ff00", "#0000ff", "#0000ff", "#00ffff", "#00ffff"]},
                         "legend": {"orient": "none", "legendX": 448, "legendY": 64, "title": null}},
               "strokeDash": {"field": "d", "type": "nominal", "scale": {"domain": ["Nord", "Nord-Ost", "Ost", "Sued-Ost", "Sued", "Sued-West", "West", "Nord-West"], "range": [[1, 0], [1.5, 1.5], [1, 0], [1.5, 1.5], [1, 0], [1.5, 1.5], [1, 0], [1.5, 1.5]]},
                         "legend": {"orient": "none", "legendX": 448, "legendY": 64, "title": null}}
             }},
            {"mark": {"type": "point", "opacity": 0},
             "encoding": {
               "x": {"field": "x", "type": "quantitative", "axis": {"orient": "top", "title": "Profil der Auftreffwahrscheinlichkeit", "labels": false, "ticks": false, "domain": false, "titleY": 42.3, "titleBaseline": "alphabetic"}},
               "y": {"field": "y", "type": "quantitative", "axis": {"orient": "right", "title": "E115 EP3 E3, Nabenhöhe 149 m", "labels": false, "ticks": false, "domain": false, "titleAngle": 0, "titleX": -629, "titleY": 25.2, "titleAlign": "left", "titleBaseline": "alphabetic", "titleFontSize": 26, "titleColor": "#000000", "titleLimit": 1000}}
             }}
          ]
        },
        {
          "width": 642, "height": 570,
          "data": {"name": "p2"},
          "resolve": {"axis": {"x": "independent", "y": "independent"}},
          "layer": [
            {"mark": {"type": "line", "strokeWidth": 1.2, "interpolate": "monotone"},
             "encoding": {
               "x": {"field": "x", "type": "quantitative", "scale": {"domain": [0, 300], "range": [70.2, 607], "nice": false, "zero": false},
                     "axis": {"orient": "bottom", "offset": -91, "values": [0, 50, 100, 150, 200, 250, 300], "title": "Abstand von der WKA [m]", "titleY": 40, "titleBaseline": "alphabetic", "labelPadding": 25.6, "labelBaseline": "alphabetic", "labelExpr": "'' + datum.value"}},
               "y": {"field": "y", "type": "quantitative", "scale": {"domain": [-5, -1], "range": [479, 57.2], "nice": false, "zero": false},
                     "axis": {"orient": "left", "offset": -70.2, "values": [-5, -4.5, -4, -3.5, -3, -2.5, -2, -1.5, -1], "title": "log10(Anzahl/Jahr/Quadratmeter)", "titleX": -47.5, "titleBaseline": "middle", "labelPadding": 12.4, "labelExpr": "'' + datum.value"}},
               "color": {"field": "d", "type": "nominal", "scale": {"domain": ["Nord", "Nord-Ost", "Ost", "Sued-Ost", "Sued", "Sued-West", "West", "Nord-West"], "range": ["#ff0000", "#ff0000", "#00ff00", "#00ff00", "#0000ff", "#0000ff", "#00ffff", "#00ffff"]},
                         "legend": {"orient": "none", "legendX": 446, "legendY": 64, "title": null}},
               "strokeDash": {"field": "d", "type": "nominal", "scale": {"domain": ["Nord", "Nord-Ost", "Ost", "Sued-Ost", "Sued", "Sued-West", "West", "Nord-West"], "range": [[1, 0], [1.5, 1.5], [1, 0], [1.5, 1.5], [1, 0], [1.5, 1.5], [1, 0], [1.5, 1.5]]},
                         "legend": {"orient": "none", "legendX": 446, "legendY": 64, "title": null}}
             }},
            {"mark": {"type": "point", "opacity": 0},
             "encoding": {
               "x": {"field": "x", "type": "quantitative", "axis": {"orient": "top", "title": "Profil der Auftreffwahrscheinlichkeit", "labels": false, "ticks": false, "domain": false, "titleY": 42.3, "titleBaseline": "alphabetic"}},
               "y": {"field": "y", "type": "quantitative", "axis": {"orient": "right", "title": "V117, Nabenhöhe 141,5+3 m", "labels": false, "ticks": false, "domain": false, "titleAngle": 0, "titleX": -627.5, "titleY": 25.2, "titleAlign": "left", "titleBaseline": "alphabetic", "titleFontSize": 26, "titleColor": "#000000", "titleLimit": 1000}}
             }}
          ]
        }
      ]
    },
    {
      "spacing": 0,
      "bounds": "flush",
      "resolve": {"scale": {"x": "independent", "y": "independent", "color": "independent", "strokeDash": "independent"}, "legend": {"color": "independent", "strokeDash": "independent"}},
      "hconcat": [
        {
          "width": 643, "height": 572,
          "data": {"name": "p3"},
          "resolve": {"axis": {"x": "independent", "y": "independent"}},
          "layer": [
            {"mark": {"type": "line", "strokeWidth": 1.2, "interpolate": "monotone"},
             "encoding": {
               "x": {"field": "x", "type": "quantitative", "scale": {"domain": [0, 350], "range": [71.8, 608.8], "nice": false, "zero": false},
                     "axis": {"orient": "bottom", "offset": -92.5, "values": [0, 50, 100, 150, 200, 250, 300, 350], "title": "Abstand von der WKA [m]", "titleY": 40, "titleBaseline": "alphabetic", "labelPadding": 25.6, "labelBaseline": "alphabetic", "labelExpr": "'' + datum.value"}},
               "y": {"field": "y", "type": "quantitative", "scale": {"domain": [-5, -1], "range": [479.5, 57.5], "nice": false, "zero": false},
                     "axis": {"orient": "left", "offset": -71.8, "values": [-5, -4.5, -4, -3.5, -3, -2.5, -2, -1.5, -1], "title": "log10(Anzahl/Jahr/Quadratmeter)", "titleX": -48.8, "titleBaseline": "middle", "labelPadding": 12.4, "labelExpr": "'' + datum.value"}},
               "color": {"field": "d", "type": "nominal", "scale": {"domain": ["Nord", "Nord-Ost", "Ost", "Sued-Ost", "Sued", "Sued-West", "West", "Nord-West"], "range": ["#ff0000", "#ff0000", "#00ff00", "#00ff00", "#0000ff", "#0000ff", "#00ffff", "#00ffff"]},
                         "legend": {"orient": "none", "legendX": 448, "legendY": 64.5, "title": null}},
               "strokeDash": {"field": "d", "type": "nominal", "scale": {"domain": ["Nord", "Nord-Ost", "Ost", "Sued-Ost", "Sued", "Sued-West", "West", "Nord-West"], "range": [[1, 0], [1.5, 1.5], [1, 0], [1.5, 1.5], [1, 0], [1.5, 1.5], [1, 0], [1.5, 1.5]]},
                         "legend": {"orient": "none", "legendX": 448, "legendY": 64.5, "title": null}}
             }},
            {"mark": {"type": "point", "opacity": 0},
             "encoding": {
               "x": {"field": "x", "type": "quantitative", "axis": {"orient": "top", "title": "Profil der Auftreffwahrscheinlichkeit", "labels": false, "ticks": false, "domain": false, "titleY": 43.6, "titleBaseline": "alphabetic"}},
               "y": {"field": "y", "type": "quantitative", "axis": {"orient": "right", "title": "E160 EP5 E3, Nabenhöhe 167", "labels": false, "ticks": false, "domain": false, "titleAngle": 0, "titleX": -629, "titleY": 27, "titleAlign": "left", "titleBaseline": "alphabetic", "titleFontSize": 26, "titleColor": "#000000", "titleLimit": 1000}}
             }}
          ]
        },
        {
          "width": 642, "height": 572,
          "data": {"name": "p4"},
          "resolve": {"axis": {"x": "independent", "y": "independent"}},
          "layer": [
            {"mark": {"type": "line", "strokeWidth": 1.2, "interpolate": "monotone"},
             "encoding": {
               "x": {"field": "x", "type": "quantitative", "scale": {"domain": [0, 350], "range": [70.3, 605.4], "nice": false, "zero": false},
                     "axis": {"orient": "bottom", "offset": -92.5, "values": [0, 50, 100, 150, 200, 250, 300, 350], "title": "Abstand von der WKA [m]", "titleY": 40, "titleBaseline": "alphabetic", "labelPadding": 25.6, "labelBaseline": "alphabetic", "labelExpr": "'' + datum.value"}},
               "y": {"field": "y", "type": "quantitative", "scale": {"domain": [-5, -1], "range": [479.5, 57.5], "nice": false, "zero": false},
                     "axis": {"orient": "left", "offset": -70.3, "values": [-5, -4.5, -4, -3.5, -3, -2.5, -2, -1.5, -1], "title": "log10(Anzahl/Jahr/Quadratmeter)", "titleX": -47.5, "titleBaseline": "middle", "labelPadding": 12.4, "labelExpr": "'' + datum.value"}},
               "color": {"field": "d", "type": "nominal", "scale": {"domain": ["Nord", "Nord-Ost", "Ost", "Sued-Ost", "Sued", "Sued-West", "West", "Nord-West"], "range": ["#ff0000", "#ff0000", "#00ff00", "#00ff00", "#0000ff", "#0000ff", "#00ffff", "#00ffff"]},
                         "legend": {"orient": "none", "legendX": 445, "legendY": 64.5, "title": null}},
               "strokeDash": {"field": "d", "type": "nominal", "scale": {"domain": ["Nord", "Nord-Ost", "Ost", "Sued-Ost", "Sued", "Sued-West", "West", "Nord-West"], "range": [[1, 0], [1.5, 1.5], [1, 0], [1.5, 1.5], [1, 0], [1.5, 1.5], [1, 0], [1.5, 1.5]]},
                         "legend": {"orient": "none", "legendX": 445, "legendY": 64.5, "title": null}}
             }},
            {"mark": {"type": "point", "opacity": 0},
             "encoding": {
               "x": {"field": "x", "type": "quantitative", "axis": {"orient": "top", "title": "Profil der Auftreffwahrscheinlichkeit", "labels": false, "ticks": false, "domain": false, "titleY": 43.6, "titleBaseline": "alphabetic"}},
               "y": {"field": "y", "type": "quantitative", "axis": {"orient": "right", "title": "V162, Nabenhöhe 169 m", "labels": false, "ticks": false, "domain": false, "titleAngle": 0, "titleX": -627.5, "titleY": 27, "titleAlign": "left", "titleBaseline": "alphabetic", "titleFontSize": 26, "titleColor": "#000000", "titleLimit": 1000}}
             }}
          ]
        }
      ]
    }
  ]
}
